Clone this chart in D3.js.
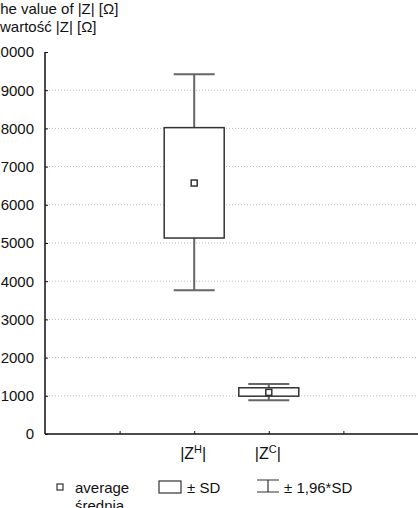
<!DOCTYPE html>
<html>
<head>
	<meta charset="utf-8">
	<script src="https://cdn.jsdelivr.net/npm/d3@7"></script>
	<style>
		body { margin: 0; background: white; }
		svg { font-family: "Liberation Sans", Arial, sans-serif; }
		.grid line { stroke: #bbb; stroke-dasharray: 1,2; }
	</style>
</head>
<body>
	<svg></svg>
	<script>
		// values
		var categories = ["H", "C"];
		var positions = [2, 3];
		var means = [6570, 1090];
		var boxLow = [5130, 990];
		var boxHigh = [8020, 1210];
		var whiskLow = [3760, 885];
		var whiskHigh = [9420, 1310];
		var yTicks = [0, 1000, 2000, 3000, 4000, 5000, 6000, 7000, 8000, 9000, 10000];

		var width = 418, height = 508;
		var margins = { left: 45, right: 0, top: 52, bottom: 74 };

		var svg = d3.select("svg")
			.attr("width", width)
			.attr("height", height);

		var x = d3.scaleLinear().domain([0, 5]).range([margins.left, width - margins.right]);
		var y = d3.scaleLinear().domain([0, 10000]).range([height - margins.bottom, margins.top]);

		// grid
		svg.append("g").attr("class", "grid")
			.selectAll("line")
			.data(yTicks.filter(d => d > 0 && d < 10000))
			.enter().append("line")
			.attr("x1", margins.left + 1).attr("x2", width)
			.attr("y1", d => y(d)).attr("y2", d => y(d));

		// y axis
		var yAxis = svg.append("g")
			.attr("transform", "translate(" + margins.left + ",0)")
			.call(d3.axisLeft(y).tickValues(yTicks).tickSize(-3).tickPadding(11).tickFormat(d3.format("d")));
		yAxis.select(".domain").attr("stroke", "#111").attr("stroke-width", 1.5).attr("d", "M0," + y(10000) + "V" + y(0));
		yAxis.selectAll(".tick line").attr("stroke", "#111");
		yAxis.selectAll("text").attr("font-size", 15).attr("fill", "#111").attr("font-family", "Liberation Sans, Arial, sans-serif");

		// x axis
		var xAxis = svg.append("g")
			.attr("transform", "translate(0," + y(0) + ")")
			.call(d3.axisBottom(x).tickValues([1, 2, 3, 4]).tickSize(-3).tickFormat(""));
		xAxis.select(".domain").attr("stroke", "#111").attr("stroke-width", 1.5).attr("d", "M" + margins.left + ",0H" + width);
		xAxis.selectAll(".tick line").attr("stroke", "#111");

		// category labels
		var labels = svg.append("g").selectAll("text")
			.data(categories)
			.enter().append("text")
			.attr("x", (d, i) => x(positions[i]) - 1)
			.attr("y", y(0) + 25)
			.attr("text-anchor", "middle")
			.attr("font-size", 16)
			.attr("fill", "#111");
		labels.append("tspan").text("|Z");
		labels.append("tspan").attr("dy", -6).attr("font-size", 11).text(d => d);
		labels.append("tspan").attr("dy", 6).text("|");

		// boxes
		var boxW = 60, capW = 41, markS = 6;
		var g = svg.append("g").selectAll("g")
			.data(categories)
			.enter().append("g");

		g.append("line")
			.attr("x1", (d, i) => x(positions[i])).attr("x2", (d, i) => x(positions[i]))
			.attr("y1", (d, i) => y(whiskHigh[i])).attr("y2", (d, i) => y(whiskLow[i]))
			.attr("stroke", "#666").attr("stroke-width", 2);
		g.append("line")
			.attr("x1", (d, i) => x(positions[i]) - capW / 2).attr("x2", (d, i) => x(positions[i]) + capW / 2)
			.attr("y1", (d, i) => y(whiskHigh[i])).attr("y2", (d, i) => y(whiskHigh[i]))
			.attr("stroke", "#666").attr("stroke-width", 2);
		g.append("line")
			.attr("x1", (d, i) => x(positions[i]) - capW / 2).attr("x2", (d, i) => x(positions[i]) + capW / 2)
			.attr("y1", (d, i) => y(whiskLow[i])).attr("y2", (d, i) => y(whiskLow[i]))
			.attr("stroke", "#666").attr("stroke-width", 2);
		g.append("rect")
			.attr("x", (d, i) => x(positions[i]) - boxW / 2)
			.attr("width", boxW)
			.attr("y", (d, i) => y(boxHigh[i]))
			.attr("height", (d, i) => y(boxLow[i]) - y(boxHigh[i]))
			.attr("fill", "white").attr("stroke", "#333").attr("stroke-width", 1.5);
		g.append("rect")
			.attr("x", (d, i) => x(positions[i]) - markS / 2)
			.attr("y", (d, i) => y(means[i]) - markS / 2)
			.attr("width", markS).attr("height", markS)
			.attr("fill", "white").attr("stroke", "#333").attr("stroke-width", 1.5);

		// y title (cut off at left like the original)
		svg.append("text").attr("x", -9).attr("y", 14).attr("font-size", 15).attr("fill", "#111").text("The value of |Z| [Ω]");
		svg.append("text").attr("x", 0).attr("y", 32).attr("font-size", 15).attr("fill", "#111").text("wartość |Z| [Ω]");

		// legend
		var leg = svg.append("g").attr("font-size", 15).attr("fill", "#111");
		leg.append("rect").attr("x", 57).attr("y", 484).attr("width", 6).attr("height", 6)
			.attr("fill", "white").attr("stroke", "#333").attr("stroke-width", 1.2);
		leg.append("text").attr("x", 75).attr("y", 493).text("average");
		leg.append("text").attr("x", 75).attr("y", 511).text("średnia");
		leg.append("rect").attr("x", 159).attr("y", 481).attr("width", 22).attr("height", 12)
			.attr("fill", "white").attr("stroke", "#333").attr("stroke-width", 1.2);
		leg.append("text").attr("x", 187).attr("y", 493).text("± SD");
		leg.append("path").attr("d", "M257,480H279M268,480V492M257,492H279")
			.attr("fill", "none").attr("stroke", "#333").attr("stroke-width", 1.2);
		leg.append("text").attr("x", 284).attr("y", 493).text("± 1,96*SD");
	</script>
</body>
</html>
